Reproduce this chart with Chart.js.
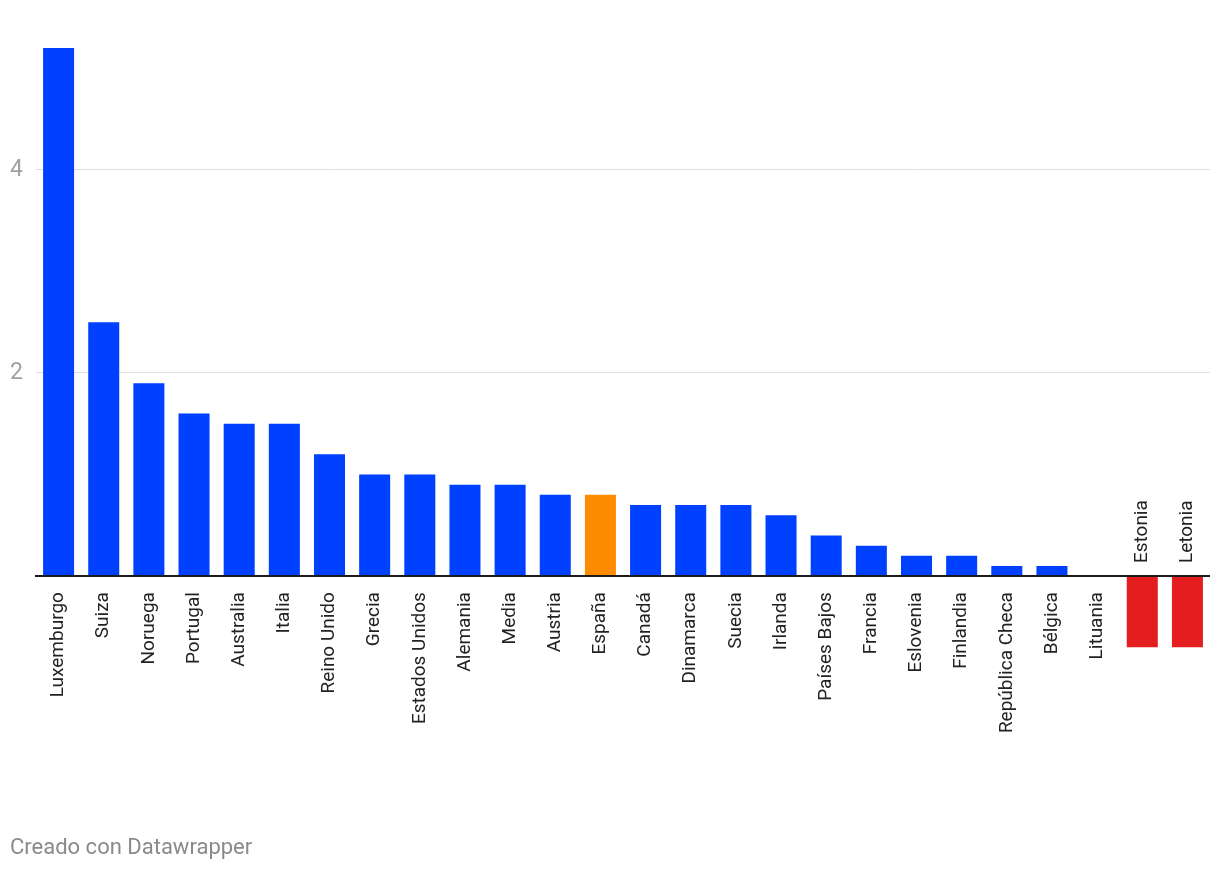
<!DOCTYPE html>
<html>
<head>
<meta charset="utf-8">
<script src="https://cdn.jsdelivr.net/npm/chart.js@4/dist/chart.umd.min.js"></script>
<style>
  html, body { margin: 0; padding: 0; background: #fff; }
  #wrap { position: relative; width: 1220px; height: 874px; }
  #footer { position: absolute; left: 10px; top: 834px; font-family: Roboto, sans-serif; font-size: 22px; color: #8a8a8a; }
</style>
</head>
<body>
<div id="wrap">
  <canvas id="c" width="1220" height="874"></canvas>
  <div id="footer">Creado con Datawrapper</div>
</div>
<script>
const categories = ["Luxemburgo","Suiza","Noruega","Portugal","Australia","Italia","Reino Unido","Grecia","Estados Unidos","Alemania","Media","Austria","España","Canadá","Dinamarca","Suecia","Irlanda","Países Bajos","Francia","Eslovenia","Finlandia","República Checa","Bélgica","Lituania","Estonia","Letonia"];
const values = [5.2,2.5,1.9,1.6,1.5,1.5,1.2,1.0,1.0,0.9,0.9,0.8,0.8,0.7,0.7,0.7,0.6,0.4,0.3,0.2,0.2,0.1,0.1,0,-0.7,-0.7];
const yTicks = [2, 4];

const BLUE = "#0040ff", ORANGE = "#ff8c00", RED = "#e41e1e";
const colors = categories.map((c, i) => c === "España" ? ORANGE : (values[i] < 0 ? RED : BLUE));

const labelPlugin = {
  id: "labels",
  afterDatasetsDraw(chart) {
    const ctx = chart.ctx, x = chart.scales.x, y = chart.scales.y, area = chart.chartArea;
    const y0 = y.getPixelForValue(0);
    ctx.save();
    ctx.strokeStyle = "#1a1a1a";
    ctx.lineWidth = 2;
    ctx.beginPath();
    ctx.moveTo(area.left - 1, y0);
    ctx.lineTo(area.right, y0);
    ctx.stroke();
    ctx.fillStyle = "#222222";
    ctx.font = "19px Roboto, sans-serif";
    ctx.textBaseline = "middle";
    categories.forEach((c, i) => {
      const cx = x.getPixelForValue(i);
      ctx.save();
      if (values[i] < 0) {
        ctx.translate(cx, y0 - 13);
        ctx.rotate(-Math.PI / 2);
        ctx.textAlign = "left";
      } else {
        ctx.translate(cx, y0 + 16);
        ctx.rotate(-Math.PI / 2);
        ctx.textAlign = "right";
      }
      ctx.fillText(c, 0, 0);
      ctx.restore();
    });
    ctx.restore();
  }
};

new Chart(document.getElementById("c"), {
  type: "bar",
  data: {
    labels: categories,
    datasets: [{ data: values, backgroundColor: colors, barPercentage: 0.687, categoryPercentage: 1 }]
  },
  options: {
    responsive: false,
    animation: false,
    events: [],
    layout: { padding: { left: 10, right: 10, top: 17.5, bottom: 206.5 } },
    plugins: { legend: { display: false }, tooltip: { enabled: false } },
    scales: {
      x: { display: false },
      y: {
        min: -0.9, max: 5.5,
        afterFit(s) { s.width = 26; },
        afterBuildTicks(s) { s.ticks = yTicks.map(v => ({ value: v })); },
        border: { display: false },
        grid: { color: "#e0e0e0", lineWidth: 1, drawTicks: false },
        ticks: { crossAlign: "far", padding: 0, color: "#a0a0a0", font: { family: "Roboto", size: 23 } }
      }
    }
  },
  plugins: [labelPlugin]
});
</script>
</body>
</html>
